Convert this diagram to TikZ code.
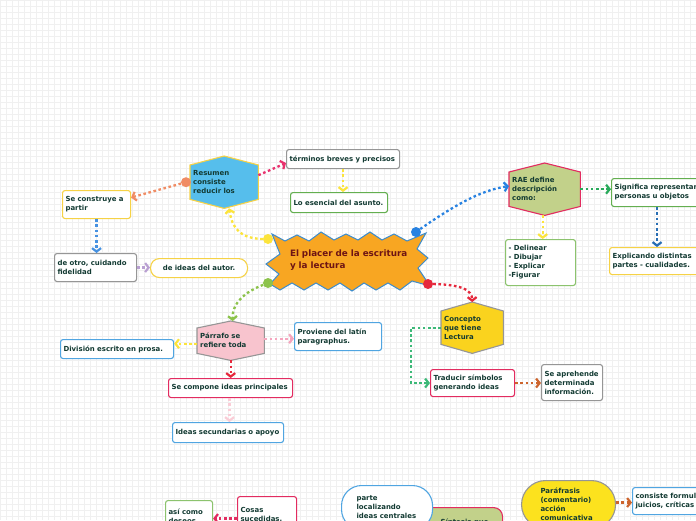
\documentclass[tikz,border=0pt]{standalone}
\usepackage{fontspec}
\setmainfont{DejaVu Sans}
\usetikzlibrary{arrows.meta,calc,backgrounds}
\definecolor{ink}{RGB}{18,58,50}
\definecolor{maroonT}{RGB}{110,20,20}
\definecolor{resblue}{RGB}{86,190,236}
\definecolor{ylwB}{RGB}{246,210,70}
\definecolor{raeG}{RGB}{194,209,138}
\definecolor{crim}{RGB}{226,44,96}
\definecolor{pinkF}{RGB}{248,196,206}
\definecolor{grayB}{RGB}{150,150,150}
\definecolor{gold}{RGB}{250,211,30}
\definecolor{starO}{RGB}{248,166,34}
\definecolor{starB}{RGB}{60,140,205}
\definecolor{greenB}{RGB}{100,175,80}
\definecolor{lgreenB}{RGB}{140,195,110}
\definecolor{blueB}{RGB}{80,165,225}
\definecolor{parY}{RGB}{252,226,30}
\definecolor{cY}{RGB}{252,228,60}
\definecolor{cSal}{RGB}{240,140,100}
\definecolor{cPink}{RGB}{232,50,110}
\definecolor{cBlue}{RGB}{70,145,225}
\definecolor{cLav}{RGB}{185,160,210}
\definecolor{cBlueT}{RGB}{40,130,225}
\definecolor{cGreen}{RGB}{40,170,90}
\definecolor{cBlueD}{RGB}{40,110,180}
\definecolor{cYG}{RGB}{140,195,75}
\definecolor{cPinkL}{RGB}{245,165,190}
\definecolor{cRed}{RGB}{230,40,60}
\definecolor{cPinkXL}{RGB}{250,205,215}
\definecolor{cTeal}{RGB}{60,185,120}
\definecolor{cBrown}{RGB}{205,100,45}
\newcommand\hexshape[3]{%
  \draw[#3] ($(#1.north west)+(0,#2)$) -- (#1.north) -- ($(#1.north east)+(0,#2)$)
    -- ($(#1.south east)+(0,-#2)$) -- (#1.south) -- ($(#1.south west)+(0,-#2)$) -- cycle;}
\tikzset{
  txt/.style={font=\fontsize{6.95}{9}\selectfont\bfseries, text=ink, align=left, inner sep=3},
  box/.style={txt, draw, fill=white, rounded corners=2.5, line width=1.1, anchor=north west},
  hexn/.style={txt, anchor=north west},
  conn/.style={line width=2.3, dash pattern=on 2.6 off 2.6,
    -{Straight Barb[length=3.5,width=9,line width=2.2]}},
  dotc/.style={radius=5}
}
\begin{document}
\begin{tikzpicture}[x=1pt,y=-1pt]
\useasboundingbox (0,0) rectangle (696,520);
\clip (0,0) rectangle (696,520);
\begin{scope}[on background layer]
  \fill[white] (0,0) rectangle (696,520);
  \foreach \i in {0,6,...,696} {\draw[black!6, line width=0.9] (\i,0) -- (\i,520);}
  \foreach \j in {0,6,...,520} {\draw[black!6, line width=0.9] (0,\j) -- (696,\j);}
\end{scope}

% central star
\node[txt, font=\fontsize{8.8}{12}\selectfont\bfseries, text=maroonT, text width=124, anchor=center] (star) at (352,260) {El placer de la escritura\\y la lectura};
\begin{scope}[on background layer]
\draw[fill=starO, draw=starB, line width=1] (272,234) -- (285,241) -- (297,235) -- (309,241) -- (321,232) -- (334,240) -- (346,234) -- (358,240) -- (370,232) -- (382,240) -- (394,234) -- (407,241) -- (426,233) -- (417,249) -- (428,258) -- (418,268) -- (430,286) -- (412,281) -- (400,290) -- (388,283) -- (376,290) -- (364,283) -- (352,291) -- (340,283) -- (328,290) -- (316,283) -- (304,290) -- (292,283) -- (280,290) -- (270,284) -- (279,274) -- (266,264) -- (280,254) -- cycle;
\end{scope}
\coordinate (dY) at (268,239);
\coordinate (dB) at (416,232);
\coordinate (dG) at (268,283);
\coordinate (dR) at (428,284);

% hexagons
\node[hexn, minimum width=68, minimum height=52, text width=62] (res) at (190,156) {Resumen\\consiste\\reducir los};
\node[hexn, minimum width=71, minimum height=52, text width=65] (rae) at (509,163) {RAE define\\descripción\\como:};
\node[hexn, minimum width=67, minimum height=39, text width=61] (par) at (197,321) {Párrafo se\\refiere toda};
\node[hexn, minimum width=62, minimum height=51, text width=56] (con) at (441,302) {Concepto\\que tiene\\Lectura};
\begin{scope}[on background layer]
\hexshape{res}{9}{fill=resblue, draw=ylwB, line width=1.1}
\hexshape{rae}{9}{fill=raeG, draw=crim, line width=1.1}
\hexshape{par}{7}{fill=pinkF, draw=grayB, line width=1.1}
\hexshape{con}{9}{fill=gold, draw=grayB, line width=1.1}
\end{scope}

% boxes
\node[box, draw=grayB, minimum width=113, minimum height=19, text width=107] (term) at (286,149) {términos breves y precisos};
\node[box, draw=greenB, minimum width=97, minimum height=20, text width=91] (esen) at (290,192) {Lo esencial del asunto.};
\node[box, draw=ylwB, minimum width=68, minimum height=28, text width=62] (cons) at (62,190) {Se construye a\\partir};
\node[box, draw=grayB, minimum width=82, minimum height=28, text width=76] (otro) at (54,253) {de otro, cuidando\\fidelidad};
\node[box, draw=ylwB, rounded corners=9, minimum width=97, minimum height=19, text width=91, align=center] (idea) at (150,258) {de ideas del autor.};
\node[box, draw=greenB, minimum width=95, minimum height=28, text width=89] (sig) at (611,178) {Significa representar\\personas u objetos};
\node[box, draw=lgreenB, minimum width=70, minimum height=46, text width=64] (deli) at (505,239) {- Delinear\\- Dibujar\\- Explicar\\-Figurar};
\node[box, draw=ylwB, minimum width=92, minimum height=27, text width=86] (expl) at (609,247) {Explicando distintas\\partes - cualidades.};
\node[box, draw=blueB, minimum width=87, minimum height=28, text width=81] (prov) at (294,322) {Proviene del latín\\paragraphus.};
\node[box, draw=blueB, minimum width=113, minimum height=19, text width=107] (divi) at (60,339) {División escrito en prosa.};
\node[box, draw=crim, minimum width=124, minimum height=19, text width=118] (comp) at (168,378) {Se compone ideas principales};
\node[box, draw=blueB, minimum width=111, minimum height=20, text width=105] (secu) at (172,422) {Ideas secundarias o apoyo};
\node[box, draw=crim, minimum width=84, minimum height=27, text width=78] (trad) at (430,369) {Traducir símbolos\\generando ideas};
\node[box, draw=grayB, minimum width=61, minimum height=36, text width=55] (apre) at (541,364) {Se aprehende\\determinada\\información.};
\node[box, draw=lgreenB, minimum width=47, minimum height=32, text width=41, anchor=north west] (asi) at (165,500) {así como\\deseos};
\node[box, draw=crim, minimum width=59, minimum height=36, text width=53] (cosa) at (237,496) {Cosas\\sucedidas,};
\node[box, draw=crim, fill=raeG, rounded corners=9, minimum width=80, minimum height=30, text width=60] (sint) at (422,507) {\hspace*{8pt}Síntesis que};
\node[box, draw=blueB, rounded corners=20, minimum width=91, minimum height=44, text width=75, inner xsep=8] (part) at (341,485) {\hspace*{7pt}parte\\\hspace*{7pt}localizando\\\hspace*{7pt}ideas centrales};
\node[box, draw=grayB, fill=parY, rounded corners=24, minimum width=94, minimum height=48, text width=70, inner xsep=12] (para) at (521,480) {\hspace*{7pt}Paráfrasis\\\hspace*{7pt}(comentario)\\\hspace*{7pt}acción\\\hspace*{7pt}comunicativa};
\node[box, draw=blueB, minimum width=80, minimum height=27, text width=74] (cnst) at (632,487) {consiste formular\\juicios, críticas};

% connectors
\draw[conn, cY] (dY) .. controls (240,240) and (232,228) .. ([xshift=5]res.south);
\fill[cY] (dY) circle[dotc];
\draw[conn, cSal] ([xshift=-4]res.west) -- ([yshift=7]cons.east);
\fill[cSal] ([xshift=-4]res.west) circle[dotc];
\draw[conn, cPink] ([yshift=7]res.east) -- ([yshift=-4]term.west);
\draw[conn, cY] (term.south) -- (term.south |- esen.north);
\draw[conn, cBlue] (cons.south) -- (cons.south |- otro.north);
\draw[conn, cLav] (otro.east) -- (otro.east -| idea.west);
\draw[conn, cBlueT] (dB) .. controls (450,208) and (480,190) .. ([yshift=3]rae.west);
\fill[cBlueT] (dB) circle[dotc];
\draw[conn, cGreen] (rae.east) -- (rae.east -| sig.west);
\draw[conn, cY] ([xshift=-2]rae.south) -- ([xshift=-2]rae.south |- deli.north);
\draw[conn, cBlueD] ([xshift=-2]sig.south) -- ([xshift=-2]sig.south |- expl.north);
\draw[conn, cYG] (dG) .. controls (242,292) and (232,305) .. ([xshift=2]par.north);
\fill[cYG] (dG) circle[dotc];
\draw[conn, cPinkL] ([yshift=2]par.east) -- ([yshift=2]par.east -| prov.west);
\draw[conn, cY] ([yshift=-3]par.west) -- ([yshift=-3]par.west -| divi.east);
\draw[conn, cRed] (par.south) -- (par.south |- comp.north);
\draw[conn, cPinkXL] ([xshift=-1]comp.south) -- ([xshift=-1]comp.south |- secu.north);
\draw[conn, cRed] (dR) .. controls (462,284) and (472,290) .. (con.north);
\fill[cRed] (dR) circle[dotc];
\draw[conn, cTeal] (con.west) -- ++(-30,0) |- (trad.west);
\draw[conn, cBrown] (trad.east) -- (trad.east -| apre.west);
\draw[conn, crim] ([yshift=-4]cosa.west) -- ([yshift=-4]cosa.west -| asi.east);
\draw[conn, cBrown] ([yshift=2]para.east) -- ([yshift=2]para.east -| cnst.west);
\end{tikzpicture}
\end{document}
